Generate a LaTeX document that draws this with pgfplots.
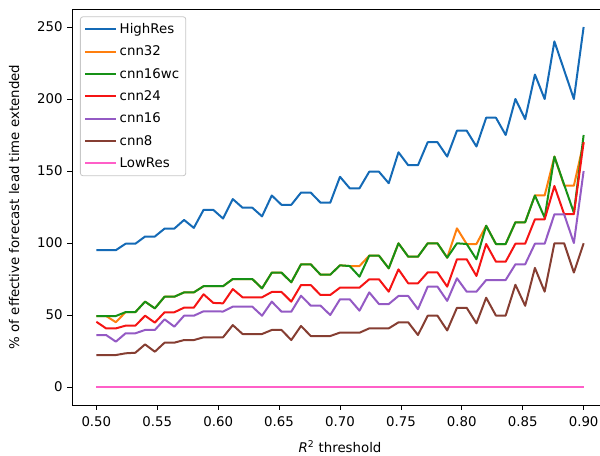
\documentclass[border=0pt]{standalone}
\usepackage{fontspec}
\setmainfont{DejaVu Sans}
\usepackage{pgfplots}
\usepackage{pgfplotstable}
\pgfplotsset{compat=1.18}
\definecolor{chigh}{RGB}{20,106,182}
\definecolor{c32}{RGB}{255,127,14}
\definecolor{c16wc}{RGB}{22,145,22}
\definecolor{c24}{RGB}{245,20,20}
\definecolor{c16}{RGB}{148,90,196}
\definecolor{c8}{RGB}{134,62,50}
\definecolor{clow}{RGB}{255,95,200}

% x, HighRes, cnn32, cnn16wc, cnn24, cnn16, cnn8
\pgfplotstableread{
x     high  c32   c16wc c24   c16   c8
0.500 95    49.3  49.3  45.3  36.1  22.2
0.508 95    49.3  49.3  40.7  36.1  22.2
0.516 95    45.0  49.3  40.7  31.5  22.2
0.524 99.5  52    52    42.6  37.3  23.4
0.532 99.5  52    52    42.6  37.3  23.8
0.540 104.5 59.3  59.3  49.5  39.6  29.6
0.548 104.5 54.6  54.6  44.7  39.6  24.5
0.556 110   62.7  62.7  51.9  47    30.8
0.564 110   62.7  62.7  51.9  41.9  30.8
0.572 116   65.7  65.7  55.1  49.5  32.6
0.580 110.5 65.7  65.7  55.1  49.5  32.6
0.588 123   70    70    64.4  52.6  34.5
0.596 123   70    70    58.4  52.6  34.5
0.604 117   70    70    58.1  52.4  34.5
0.612 130.5 75    75    68    55.8  43
0.620 124.5 75    75    62.3  55.8  36.8
0.628 124.5 75    75    62.3  55.8  36.8
0.636 118.5 68.5  68.5  62.3  49.5  36.8
0.644 133   79.4  79.4  66    59.3  39.6
0.652 126.5 79.4  79.4  66    52.3  39.6
0.660 126.5 72.7  72.7  59.3  52.3  32.6
0.668 135   85.2  85.2  70.8  63.4  42.4
0.676 135   85.2  85.2  70.8  56.5  35.4
0.684 128   78    78    63.9  56.5  35.4
0.692 128   78    78    63.9  50    35.4
0.700 146   84.5  84.5  69    60.9  37.8
0.708 138   84    84    69    60.9  37.7
0.716 138   84    76.6  69    53    37.7
0.724 149.5 91.2  91.2  74.8  65.7  40.7
0.732 149.5 91.2  91.2  74.8  57.6  40.7
0.740 141.5 82.4  82.4  66.2  57.6  40.7
0.748 163   99.8  99.8  81.7  63.2  44.9
0.756 154   90.5  90.5  72    63.2  44.9
0.764 154   90.5  90.5  72    54    36.1
0.772 170   99.8  99.8  79.6  69.7  49.5
0.780 170   99.8  99.8  79.6  69.7  49.5
0.788 160   89.8  89.8  69.7  59.8  39.3
0.796 178   110.2 99.8  88.7  75.5  55
0.804 178   99.3  99.3  88.7  66.2  55
0.812 167   99.3  88.7  77.1  66.2  44.2
0.820 187   112   112   99.3  74.3  62
0.828 187   99.3  99.3  87    74.3  49.6
0.836 175   99.3  99.3  87    74.3  49.6
0.844 200   114.4 114.4 99.5  85.2  71
0.852 186   114.4 114.4 99.5  85.2  56.4
0.860 217   133   133   116.4 99.5  82.7
0.868 200   133   117.6 116.4 99.5  66.2
0.876 240   160   160   139.6 119.9 99.8
0.884 220   139.8 140.5 120   119.9 99.8
0.892 200   139.8 121   120   100   79.5
0.900 250   170   175   170   150   99.8
}\leadtime

\begin{document}
\begin{tikzpicture}
\begin{axis}[
  at={(0,0)}, anchor=south west,
  scale only axis, width=402pt, height=297pt,
  xmin=0.48, xmax=0.92, ymin=-12.5, ymax=262.5,
  xtick={0.50,0.55,0.60,0.65,0.70,0.75,0.80,0.85,0.90},
  xticklabels={0.50,0.55,0.60,0.65,0.70,0.75,0.80,0.85,0.90},
  ytick={0,50,100,150,200,250},
  /pgf/number format/assume math mode=true,
  tick align=outside, tick pos=left, major tick length=3.5pt,
  tick style={black, line width=0.6pt},
  axis line style={black, line width=0.6pt},
  ticklabel style={font=\fontsize{10}{12}\selectfont},
  xticklabel style={yshift=-1.5pt},
  xlabel={{\itshape R}\textsuperscript{2} threshold},
  ylabel={\% of effective forecast lead time extended},
  xlabel style={at={(axis description cs:0.5,-0.106)}, anchor=center, font=\fontsize{10}{12}\selectfont},
  ylabel style={at={(axis description cs:-0.108,0.5)}, anchor=center, font=\fontsize{10}{12}\selectfont},
  legend cell align=left,
  legend style={at={(0,1)}, anchor=north west, xshift=6pt, yshift=-5.5pt,
    draw=black!22, rounded corners=2pt, fill=white, line width=0.6pt,
    font=\fontsize{10}{12}\selectfont, row sep=3.8pt, inner xsep=3pt, inner ysep=3pt},
  legend image code/.code={\draw[#1] (0pt,0pt) -- (23pt,0pt);},
  every axis plot/.append style={line width=1.5pt, line join=round},
]
\addplot[chigh] table[x=x, y=high] {\leadtime};
\addlegendentry{HighRes}
\addplot[c32] table[x=x, y=c32] {\leadtime};
\addlegendentry{cnn32}
\addplot[c16wc] table[x=x, y=c16wc] {\leadtime};
\addlegendentry{cnn16wc}
\addplot[c24] table[x=x, y=c24] {\leadtime};
\addlegendentry{cnn24}
\addplot[c16] table[x=x, y=c16] {\leadtime};
\addlegendentry{cnn16}
\addplot[c8] table[x=x, y=c8] {\leadtime};
\addlegendentry{cnn8}
\addplot[clow] coordinates {(0.5,0) (0.9,0)};
\addlegendentry{LowRes}
\end{axis}
\pgfresetboundingbox
\path[use as bounding box] (-54pt,-37.5pt) rectangle (396pt,303.75pt);
\end{tikzpicture}
\end{document}
